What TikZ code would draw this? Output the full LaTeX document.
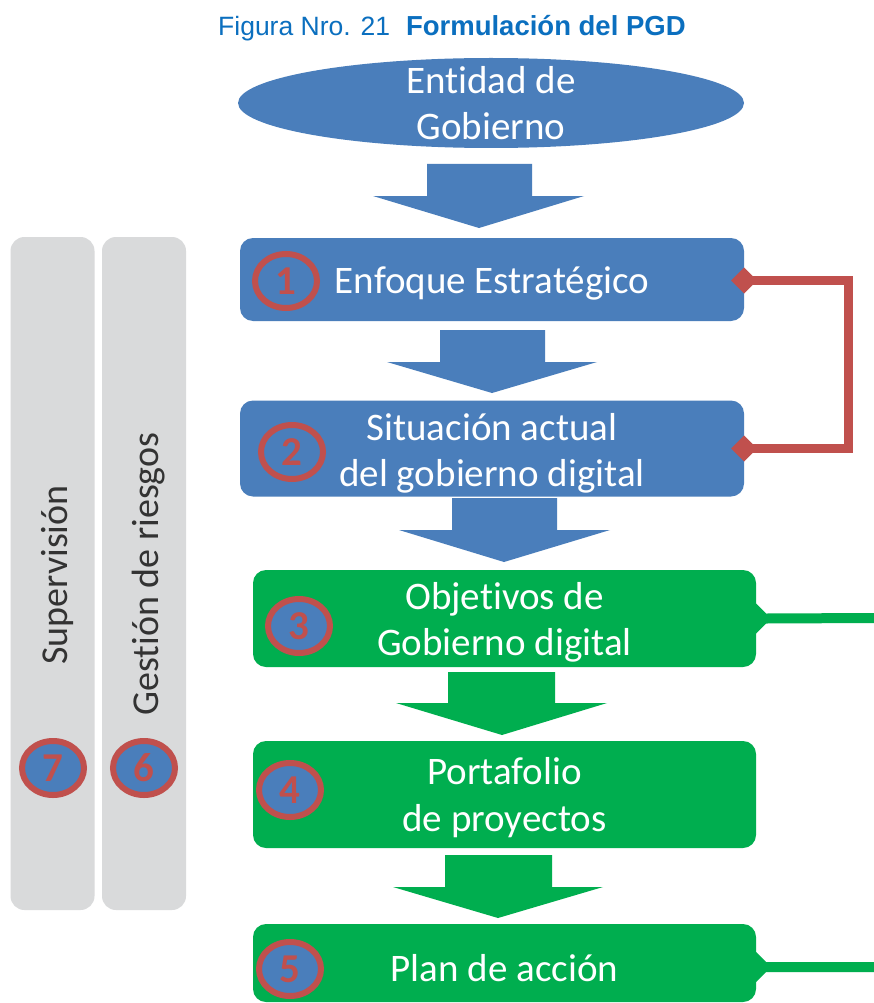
\documentclass[tikz,border=0pt]{standalone}
\usepackage{fontspec}
\setmainfont{Carlito}[RawFeature=-liga]
\newfontfamily\arialf{Liberation Sans}
\usetikzlibrary{shapes.geometric,arrows.meta,calc}
\definecolor{pblue}{HTML}{4A7EBB}
\definecolor{pgreen}{HTML}{00AE4F}
\definecolor{pred}{HTML}{C0504D}
\definecolor{pgray}{HTML}{D9DADB}
\definecolor{ptitle}{HTML}{0B6FBF}
\definecolor{ptext}{HTML}{333333}
\begin{document}
\begin{tikzpicture}[x=1pt,y=-1pt,
  bigtext/.style={font=\fontsize{39}{46.5}\selectfont},
  boxtext/.style={text=white,align=center,inner sep=0pt,bigtext},
  bluebox/.style={rectangle,rounded corners=13pt,fill=pblue,inner sep=0pt},
  greenbox/.style={rectangle,rounded corners=13pt,fill=pgreen,inner sep=0pt},
  graybar/.style={rectangle,rounded corners=14pt,fill=pgray,inner sep=0pt},
  numring/.style={ellipse,draw=pred,line width=6pt,minimum width=62pt,minimum height=54pt,inner sep=0pt,text=pred,font=\fontsize{41}{41}\selectfont\bfseries},
  numfull/.style={numring,fill=pblue},
  redline/.style={draw=pred,line width=9pt,{Diamond[length=26pt,width=26pt]}-{Diamond[length=26pt,width=26pt]}},
]
\useasboundingbox (0,0) rectangle (874,1003);
\fill[white] (0,0) rectangle (874,1003);

% title
\node[anchor=base west,inner sep=0pt,text=ptitle,font=\arialf\fontsize{26.5}{30}\selectfont] (title) at (218,36) {Figura Nro. 21\hspace{16pt}\textbf{\fontsize{27.5}{30}\selectfont Formulación del PGD}};

% ellipse
\node[ellipse,fill=pblue,minimum width=506pt,minimum height=90pt,inner sep=0pt] (ent) at (491,103) {};
\node[boxtext] (entt) at ([yshift=0pt]ent.center) {Entidad de\\Gobierno};

% gray bars
\node[graybar,minimum width=84pt,minimum height=673pt] (bar7) at (52.5,573.5) {};
\node[graybar,minimum width=84pt,minimum height=673pt] (bar6) at (144,573.5) {};
\node[rotate=90,anchor=base,inner sep=0pt,text=ptext,font=\fontsize{38}{45}\selectfont] (t7) at (67,575) {Supervisión};
\node[rotate=90,anchor=base,inner sep=0pt,text=ptext,font=\fontsize{38}{45}\selectfont] (t6) at (158,574) {Gestión de riesgos};
\node[numfull] (n7) at (53,768) {7};
\node[numfull] (n6) at (144,768) {6};

% boxes
\node[bluebox,minimum width=504pt,minimum height=83pt] (b1) at (492,279.5) {};
\node[bluebox,minimum width=504pt,minimum height=96pt] (b2) at (492,448.5) {};
\node[greenbox,minimum width=503pt,minimum height=97pt] (b3) at (504.5,618.5) {};
\node[greenbox,minimum width=503pt,minimum height=107pt] (b4) at (504.5,794.5) {};
\node[greenbox,minimum width=503pt,minimum height=78pt] (b5) at (504.5,963) {};
\node[boxtext] (b1t) at ([yshift=-4pt]b1.center) {Enfoque Estratégico};
\node[boxtext] (b2t) at ([yshift=-5pt]b2.center) {Situación actual\\del gobierno digital};
\node[boxtext] (b3t) at ([yshift=-4pt]b3.center) {Objetivos de\\Gobierno digital};
\node[boxtext] (b4t) at ([yshift=-3pt]b4.center) {Portafolio\\de proyectos};
\node[boxtext] (b5t) at ([yshift=-5pt]b5.center) {Plan de acción};

% number badges
\node[numring] (n1) at (286,281) {1};
\node[numring] (n2) at (292,452) {2};
\node[numfull] (n3) at (299,626) {3};
\node[numfull] (n4) at (290,790) {4};
\node[numfull] (n5) at (290,969) {5};

% block arrows
\fill[pblue] (427,164) -- (532,164) -- (532,196) -- (584,196) -- (479,228) -- (373,196) -- (427,196) -- cycle;
\fill[pblue] (440,330) -- (545,330) -- (545,362) -- (597,362) -- (492,393) -- (387,362) -- (440,362) -- cycle;
\fill[pblue] (452,498) -- (557,498) -- (557,530) -- (610,530) -- (504,562) -- (399,530) -- (452,530) -- cycle;
\fill[pgreen] (448,672) -- (555,672) -- (555,703) -- (607,703) -- (502,735) -- (396,703) -- (448,703) -- cycle;
\fill[pgreen] (445,855) -- (552,855) -- (552,887) -- (603,887) -- (498,918) -- (393,887) -- (445,887) -- cycle;

% red feedback connector
\draw[redline] ([xshift=-13pt,yshift=-1pt]b1.east) -- ++(117,0) |- ([xshift=-13pt]b2.east);

% green connectors
\coordinate (g3) at (874,618);
\coordinate (g5) at (874,967);
\fill[pgreen] ($(b3.east)+(0,-15)$) -- ($(b3.east)+(10,-5)$) -- ($(g3)+(0,-5)$) -- ($(g3)+(0,5)$) -- ($(b3.east)+(10,5)$) -- ($(b3.east)+(0,15)$) -- cycle;
\fill[pgreen] ($(b5.east)+(0,-11)$) -- ($(b5.east)+(10,-1)$) -- ($(g5)+(0,-5)$) -- ($(g5)+(0,5)$) -- ($(b5.east)+(10,9)$) -- ($(b5.east)+(0,19)$) -- cycle;
\end{tikzpicture}
\end{document}
